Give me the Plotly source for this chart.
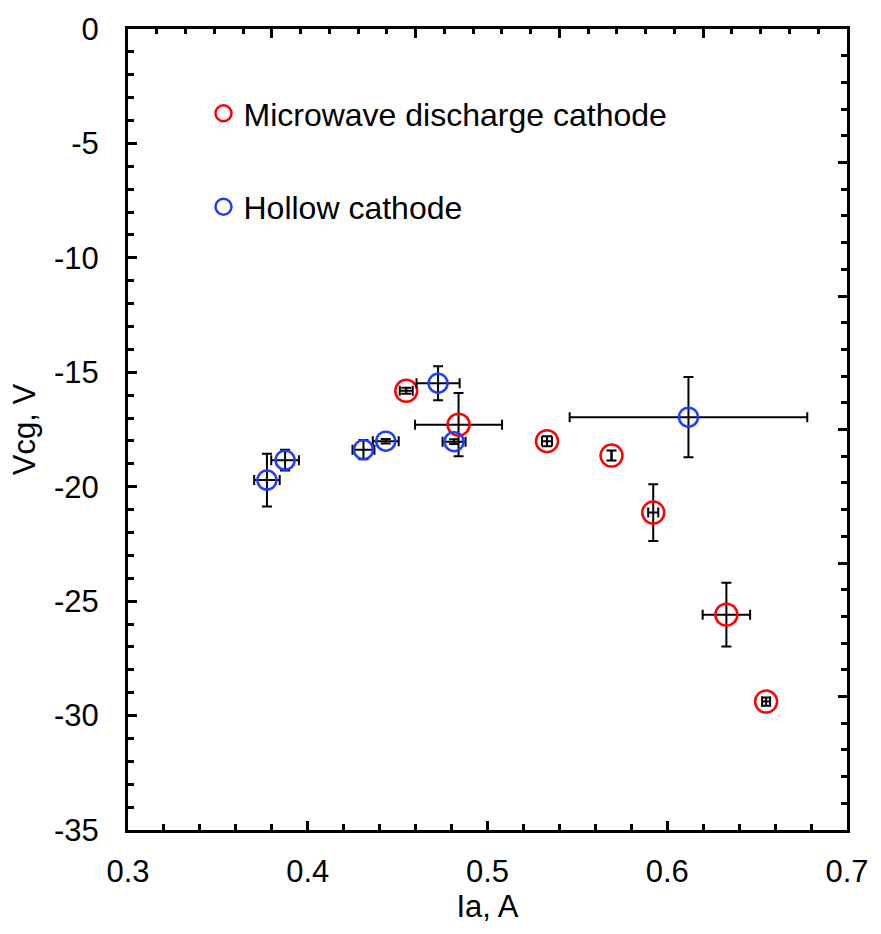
import plotly.graph_objects as go

FONT = "Liberation Sans, Arial, sans-serif"

# Microwave discharge cathode (red)
mw_ia = [0.4548, 0.4839, 0.5331, 0.5690, 0.5922, 0.6329, 0.6550]
mw_vcg = [-15.81, -17.29, -18.01, -18.64, -21.13, -25.59, -29.39]
mw_ia_err = [0.0036, 0.0242, 0.0028, 0.0, 0.0028, 0.0132, 0.0022]
mw_vcg_err = [0.13, 1.38, 0.22, 0.22, 1.24, 1.39, 0.18]

# Hollow cathode (blue)
hc_ia = [0.3773, 0.3874, 0.4310, 0.4434, 0.4725, 0.4814, 0.6118]
hc_vcg = [-19.71, -18.84, -18.38, -18.01, -15.48, -18.03, -16.96]
hc_ia_err = [0.0071, 0.0077, 0.0061, 0.0072, 0.0120, 0.0064, 0.0661]
hc_vcg_err = [1.15, 0.45, 0.42, 0.10, 0.74, 0.10, 1.75]

x_ticks = [0.3, 0.4, 0.5, 0.6, 0.7]
y_ticks = [-35, -30, -25, -20, -15, -10, -5, 0]

err_style = dict(type="data", color="black", thickness=2, width=5, visible=True)

fig = go.Figure()
fig.add_trace(go.Scatter(
    x=mw_ia, y=mw_vcg, mode="markers", name="Microwave discharge cathode",
    legendgroup="mw",
    marker=dict(symbol="circle-open", size=22, color="#ff0000", line=dict(width=2.5, color="#ff0000")),
    error_x=dict(array=mw_ia_err, **err_style),
    error_y=dict(array=mw_vcg_err, **err_style),
))
fig.add_trace(go.Scatter(
    x=hc_ia, y=hc_vcg, mode="markers", name="Hollow cathode",
    legendgroup="hc",
    marker=dict(symbol="circle-open", size=19, color="#1f3fff", line=dict(width=2.5, color="#1f3fff")),
    error_x=dict(array=hc_ia_err, **err_style),
    error_y=dict(array=hc_vcg_err, **err_style),
))
# empty trace so the independent top/right frame axes get drawn
fig.add_trace(go.Scatter(x=[], y=[], xaxis="x2", yaxis="y2", showlegend=False, hoverinfo="skip"))

axis_common = dict(
    showline=True, linewidth=3, linecolor="black", showgrid=False, zeroline=False,
    ticks="inside", ticklen=9, tickwidth=2.5, tickcolor="black",
)

fig.update_layout(
    width=881, height=934,
    margin=dict(l=128, r=27, t=24, b=104),
    paper_bgcolor="white", plot_bgcolor="white",
    font=dict(family=FONT, size=31, color="black"),
    showlegend=True,
    legend=dict(
        x=0.105, y=0.929, xanchor="left", yanchor="top",
        bgcolor="rgba(0,0,0,0)", font=dict(size=32, family=FONT),
        tracegroupgap=49, itemclick=False,
    ),
    xaxis=dict(
        range=[0.3, 0.7], tickvals=x_ticks, ticktext=[str(v) for v in x_ticks],
        minor=dict(ticks="inside", dtick=0.02, tick0=0.3, ticklen=6, tickwidth=2.5, tickcolor="black"),
        title=dict(text="Ia, A", font=dict(size=31), standoff=8),
        tickfont=dict(size=31), ticklabelstandoff=12,
        **axis_common,
    ),
    yaxis=dict(
        range=[-35, 0], tickvals=y_ticks, ticktext=[str(v) for v in y_ticks],
        minor=dict(ticks="inside", dtick=1, tick0=0, ticklen=6, tickwidth=2.5, tickcolor="black"),
        title=dict(text="Vcg, V", font=dict(size=31), standoff=10),
        tickfont=dict(size=31), ticklabelstandoff=20,
        **axis_common,
    ),
    xaxis2=dict(
        overlaying="x", side="top", anchor="y2", range=[0, 5], dtick=1, tick0=0,
        showticklabels=False,
        minor=dict(ticks="inside", dtick=0.2, tick0=0, ticklen=5, tickwidth=2.5, tickcolor="black"),
        **axis_common,
    ),
    yaxis2=dict(
        overlaying="y", side="right", anchor="x2", range=[0, 6], dtick=1, tick0=0,
        showticklabels=False,
        minor=dict(ticks="inside", dtick=0.2, tick0=0, ticklen=6, tickwidth=2.5, tickcolor="black"),
        **axis_common,
    ),
)

fig.write_html("out.html")
